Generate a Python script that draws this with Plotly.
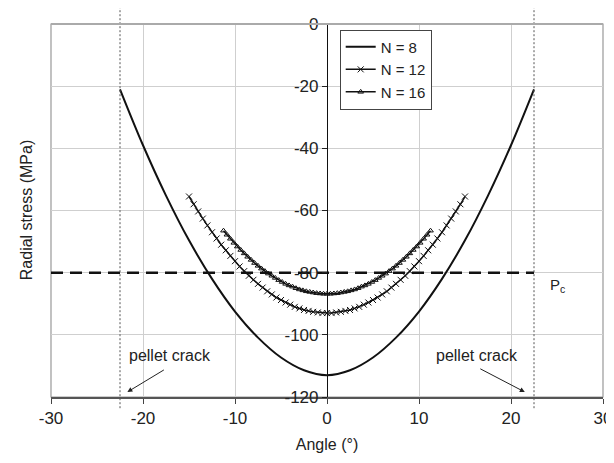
import plotly.graph_objects as go

# angle (deg) and radial stress (MPa)
angle_8 = [-22.5, -20, -17.5, -15, -12.5, -10, -7.5, -5, -2.5, 0,
           2.5, 5, 7.5, 10, 12.5, 15, 17.5, 20, 22.5]
stress_8 = [-21.0, -39.0, -55.2, -69.6, -82.0, -92.5, -100.9, -107.3, -111.4, -113.0,
            -111.4, -107.3, -100.9, -92.5, -82.0, -69.6, -55.2, -39.0, -21.0]

angle_12 = [-15, -14.5, -14, -13.5, -13, -12.5, -12, -11.5, -11, -10.5,
            -10, -9.5, -9, -8.5, -8, -7.5, -7, -6.5, -6, -5.5,
            -5, -4.5, -4, -3.5, -3, -2.5, -2, -1.5, -1, -0.5,
            0, 0.5, 1, 1.5, 2, 2.5, 3, 3.5, 4, 4.5,
            5, 5.5, 6, 6.5, 7, 7.5, 8, 8.5, 9, 9.5,
            10, 10.5, 11, 11.5, 12, 12.5, 13, 13.5, 14, 14.5, 15]
stress_12 = [-55.5, -58.0, -60.3, -62.6, -64.8, -67.0, -69.0, -71.0, -72.8, -74.6,
             -76.3, -78.0, -79.5, -81.0, -82.3, -83.6, -84.8, -86.0, -87.0, -88.0,
             -88.8, -89.6, -90.3, -91.0, -91.5, -92.0, -92.3, -92.6, -92.8, -93.0,
             -93.0, -93.0, -92.8, -92.6, -92.3, -92.0, -91.5, -91.0, -90.3, -89.6,
             -88.8, -88.0, -87.0, -86.0, -84.8, -83.6, -82.3, -81.0, -79.5, -78.0,
             -76.3, -74.6, -72.8, -71.0, -69.0, -67.0, -64.8, -62.6, -60.3, -58.0, -55.5]

angle_16 = [-11.25, -10.875, -10.5, -10.125, -9.75, -9.375, -9.0, -8.625, -8.25, -7.875,
            -7.5, -7.125, -6.75, -6.375, -6.0, -5.625, -5.25, -4.875, -4.5, -4.125,
            -3.75, -3.375, -3.0, -2.625, -2.25, -1.875, -1.5, -1.125, -0.75, -0.375,
            0.0, 0.375, 0.75, 1.125, 1.5, 1.875, 2.25, 2.625, 3.0, 3.375,
            3.75, 4.125, 4.5, 4.875, 5.25, 5.625, 6.0, 6.375, 6.75, 7.125,
            7.5, 7.875, 8.25, 8.625, 9.0, 9.375, 9.75, 10.125, 10.5, 10.875, 11.25]
stress_16 = [-66.5, -67.8, -69.1, -70.4, -71.6, -72.7, -73.8, -74.9, -75.9, -76.9,
             -77.8, -78.7, -79.5, -80.3, -81.0, -81.7, -82.4, -83.0, -83.6, -84.1,
             -84.5, -85.0, -85.4, -85.7, -86.0, -86.2, -86.4, -86.6, -86.7, -86.8,
             -86.8, -86.8, -86.7, -86.6, -86.4, -86.2, -86.0, -85.7, -85.4, -85.0,
             -84.5, -84.1, -83.6, -83.0, -82.4, -81.7, -81.0, -80.3, -79.5, -78.7,
             -77.8, -76.9, -75.9, -74.9, -73.8, -72.7, -71.6, -70.4, -69.1, -67.8, -66.5]

p_c = -80
crack_angle = 22.5

x_ticks = [-30, -20, -10, 0, 10, 20, 30]
x_labels = ["-30", "-20", "-10", "0", "10", "20", "30"]
y_ticks = [0, -20, -40, -60, -80, -100, -120]
y_labels = ["0", "-20", "-40", "-60", "-80", "-100", "-120"]

FONT = "Liberation Sans, Arial, sans-serif"

fig = go.Figure()
fig.add_trace(go.Scatter(x=angle_8, y=stress_8, mode="lines", name="N = 8",
                         line=dict(color="#111", width=2, shape="spline")))
fig.add_trace(go.Scatter(x=angle_12, y=stress_12, mode="lines+markers", name="N = 12",
                         line=dict(color="#111", width=1.5),
                         marker=dict(symbol="x-thin-open", size=6, color="#111",
                                     line=dict(width=1, color="#111"))))
fig.add_trace(go.Scatter(x=angle_16, y=stress_16, mode="lines+markers", name="N = 16",
                         line=dict(color="#111", width=1.5),
                         marker=dict(symbol="triangle-up-open", size=5, color="#111",
                                     line=dict(width=1, color="#111"))))

# critical pressure line
fig.add_shape(type="line", x0=-30, x1=crack_angle, y0=p_c, y1=p_c, layer="between",
              line=dict(color="#111", width=2.5, dash="12px,7px"))
# pellet crack positions
for a in (-crack_angle, crack_angle):
    fig.add_shape(type="line", x0=a, x1=a, xref="x", yref="paper", y0=-0.03, y1=1.043,
                  line=dict(color="#555", width=1, dash="2px,2px"))
# frame
fig.add_shape(type="rect", x0=0, x1=1, y0=0, y1=1, xref="paper", yref="paper",
              line=dict(color="#999", width=1.2), layer="below")
fig.add_shape(type="line", x0=0, x1=1, y0=1, y1=1, xref="paper", yref="paper",
              line=dict(color="#aaa", width=2))

fig.add_annotation(x=24, y=p_c, text="P<sub>c</sub>", showarrow=False, xanchor="left",
                   yanchor="top", yshift=-1, font=dict(size=15, color="#222"))

# pellet crack labels and arrows
fig.add_annotation(x=-17.1, y=-106.8, text="pellet crack", showarrow=False,
                   font=dict(size=16, color="#222"))
fig.add_annotation(x=16.3, y=-106.8, text="pellet crack", showarrow=False,
                   font=dict(size=16, color="#222"))
fig.add_annotation(x=-21.7, y=-118.4, text="", showarrow=True, ax=38, ay=-23,
                   arrowhead=2, arrowsize=1, arrowwidth=1, arrowcolor="#222")
fig.add_annotation(x=21.5, y=-118.4, text="", showarrow=True, ax=-46, ay=-24,
                   arrowhead=2, arrowsize=1, arrowwidth=1, arrowcolor="#222")

fig.add_annotation(x=-0.063, y=0.5, xref="paper", yref="paper", text="Radial stress (MPa)",
                   textangle=-90, showarrow=False, font=dict(size=16, color="#222"))

fig.update_layout(
    width=606, height=455,
    margin=dict(l=43, r=11, t=16, b=66),
    paper_bgcolor="white", plot_bgcolor="white",
    font=dict(family=FONT, size=17, color="#222"),
    showlegend=True,
    legend=dict(x=0.523, y=0.985, xanchor="left", yanchor="top",
                bgcolor="white", bordercolor="#444", borderwidth=1,
                font=dict(size=15), itemwidth=30, tracegroupgap=0),
    xaxis=dict(range=[-30, 30], tickvals=x_ticks, ticktext=x_labels, automargin=False,
               showgrid=True, gridcolor="#cfcfcf", gridwidth=1, zeroline=False,
               ticks="outside", ticklen=5, tickcolor="#444",
               showline=True, linecolor="#555", linewidth=1.5,
               title=dict(text="Angle (°)", font=dict(size=16), standoff=12)),
    yaxis=dict(range=[-120, 0], tickvals=y_ticks, ticktext=y_labels, automargin=False,
               anchor="free", position=0.5,
               showgrid=True, gridcolor="#cfcfcf", gridwidth=1, zeroline=False,
               ticks="outside", ticklen=5, tickcolor="#222",
               showline=True, linecolor="#111", linewidth=1.2),
)

fig.write_html("out.html")
